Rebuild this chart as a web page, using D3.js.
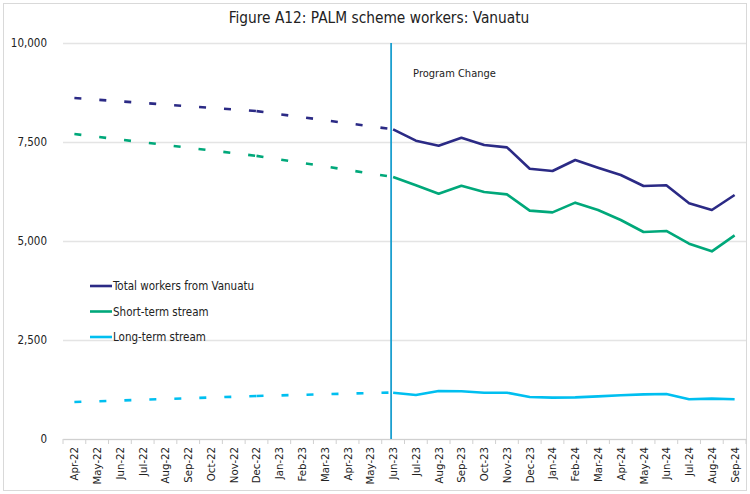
<!DOCTYPE html>
<html><head><meta charset="utf-8">
<script src="https://cdn.jsdelivr.net/npm/d3@7"></script>
<style>
body{margin:0;background:#fff;}
text{font-family:"DejaVu Sans Condensed","DejaVu Sans",sans-serif;fill:#222;}
</style></head>
<body><svg id="c" width="750" height="494"></svg>
<script>
const months = ["Apr-22","May-22","Jun-22","Jul-22","Aug-22","Sep-22","Oct-22","Nov-22","Dec-22","Jan-23","Feb-23","Mar-23","Apr-23","May-23","Jun-23","Jul-23","Aug-23","Sep-23","Oct-23","Nov-23","Dec-23","Jan-24","Feb-24","Mar-24","Apr-24","May-24","Jun-24","Jul-24","Aug-24","Sep-24"];
// Estimated (dashed) period: known points only
const estMonths = ["Apr-22","Dec-22","Jun-23"];
const totalEst = [8610, 8280, 7820];
const shortEst = [7700, 7150, 6616];
const longEst  = [934, 1086, 1175];
// Actual (solid) period
const actMonths = ["Jun-23","Jul-23","Aug-23","Sep-23","Oct-23","Nov-23","Dec-23","Jan-24","Feb-24","Mar-24","Apr-24","May-24","Jun-24","Jul-24","Aug-24","Sep-24"];
const totalAct = [7820,7533,7407,7609,7424,7365,6826,6768,7045,6851,6667,6389,6406,5951,5783,6162];
const shortAct = [6616,6406,6195,6397,6237,6178,5766,5724,5968,5783,5530,5227,5253,4933,4739,5143];
const longAct  = [1169,1111,1212,1204,1169,1169,1061,1044,1052,1077,1103,1128,1136,1002,1019,1002];
const yTicks = [0,2500,5000,7500,10000];
const seriesNames = ["Total workers from Vanuatu","Short-term stream","Long-term stream"];
const colors = ["#2b2a85","#00a87a","#00bff0"];
const title = "Figure A12: PALM scheme workers: Vanuatu";
const eventLabel = "Program Change";
const eventMonth = "Jun-23";

const svg = d3.select("#c");
svg.append("rect").attr("x",3.5).attr("y",3.5).attr("width",743).attr("height",487)
  .attr("fill","#fff").attr("stroke","#d9d9d9");

const L=63, R=746, T=43, B=439;
const x = d3.scaleBand().domain(months).range([L,R]);
const y = d3.scaleLinear().domain([0,10000]).range([B,T]);
const cx = m => x(m)+x.bandwidth()/2;

svg.append("text").attr("x",379).attr("y",23).attr("text-anchor","middle")
  .style("font-size","15.3px").text(title);

// gridlines
const yAxis = d3.axisLeft(y).tickValues(yTicks).tickSize(-(R-L)).tickFormat(d3.format(","));
const gy = svg.append("g").attr("transform",`translate(${L},0)`).call(yAxis);
gy.select(".domain").remove();
gy.selectAll(".tick line").attr("stroke","#e4e4e4").attr("stroke-width",1.5);
gy.selectAll(".tick text").attr("x",-16).style("font-size","11.5px").attr("fill","#222");

// x axis
const xAxis = d3.axisBottom(x).tickSize(0).tickSizeOuter(0);
const gx = svg.append("g").attr("transform",`translate(0,${B})`).call(xAxis);
gx.select(".domain").attr("stroke","#d0d0d0");
gx.selectAll(".tick text").attr("transform","rotate(-90)").attr("text-anchor","end")
  .attr("x",-8).attr("y",0).attr("dy","0.35em").style("font-size","11.3px");
// band boundary ticks
svg.append("g").selectAll("line").data(months.concat(["__end"])).join("line")
  .attr("x1",(d,i)=>L+i*x.bandwidth()).attr("x2",(d,i)=>L+i*x.bandwidth())
  .attr("y1",B).attr("y2",B+5).attr("stroke","#d0d0d0");

const line = d3.line().x(d=>cx(d[0])).y(d=>y(d[1]));
const ests = [totalEst, shortEst, longEst];
const acts = [totalAct, shortAct, longAct];
ests.forEach((vals,i)=>{
  for(let k=0;k<vals.length-1;k++){
    svg.append("path").attr("d",line([[estMonths[k],vals[k]],[estMonths[k+1],vals[k+1]]]))
      .attr("fill","none").attr("stroke",colors[i]).attr("stroke-width",2.6)
      .attr("stroke-dasharray","7,18");
  }
});
acts.forEach((vals,i)=>{
  svg.append("path").attr("d",line(actMonths.map((m,j)=>[m,vals[j]])))
    .attr("fill","none").attr("stroke",colors[i]).attr("stroke-width",2.6)
    .attr("stroke-linejoin","round");
});

// event line
const ex = cx(eventMonth)-2;
svg.append("line").attr("x1",ex).attr("x2",ex).attr("y1",T).attr("y2",B)
  .attr("stroke","#1b9fcf").attr("stroke-width",1.8);
svg.append("text").attr("x",ex+22).attr("y",77).style("font-size","11px").text(eventLabel);

// legend
const lg = svg.append("g");
seriesNames.forEach((n,i)=>{
  const yy = [286,311.5,337][i];
  lg.append("line").attr("x1",90).attr("x2",112).attr("y1",yy).attr("y2",yy)
    .attr("stroke",colors[i]).attr("stroke-width",2.6);
  lg.append("text").attr("x",113).attr("y",yy).attr("dy","0.35em").style("font-size","11.5px").text(n);
});
</script></body></html>
